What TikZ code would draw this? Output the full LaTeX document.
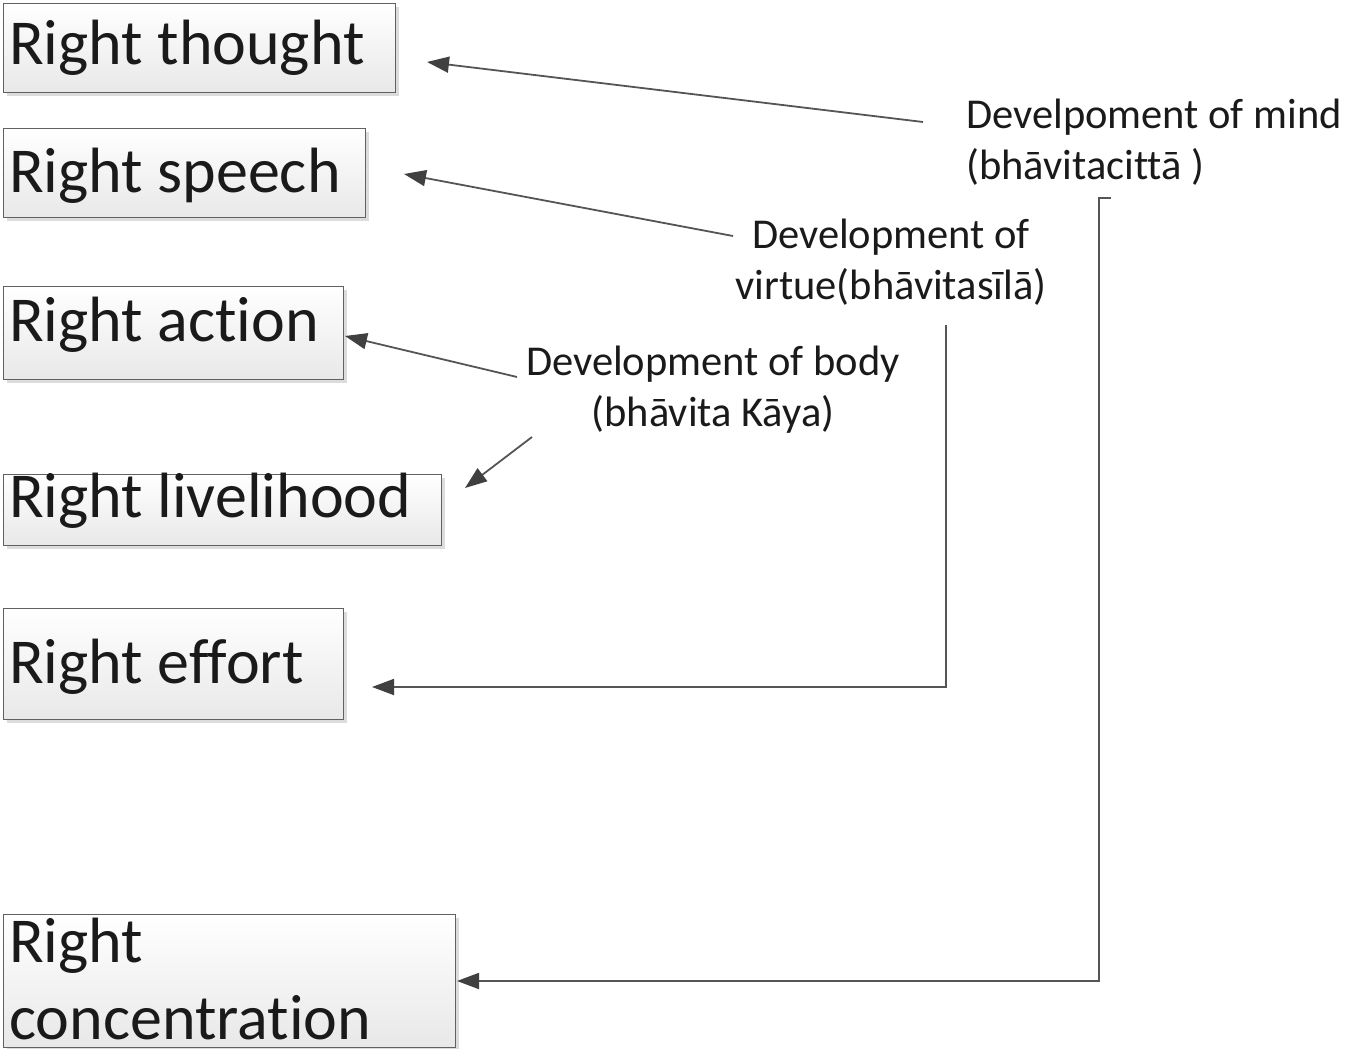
\documentclass[tikz,border=0pt]{standalone}
\usepackage{fontspec}
\setmainfont{Carlito}[Ligatures={NoCommon,NoContextual},RawFeature={-liga;-clig;-dlig}]
\usetikzlibrary{arrows.meta,shadows}
\definecolor{linec}{HTML}{555555}
\definecolor{headc}{HTML}{404040}
\definecolor{txt}{HTML}{1A1A1A}
\begin{document}
\begin{tikzpicture}[x=1pt,y=-1pt,
  box/.style={draw=black!62, line width=1.2pt, top color=white, bottom color=black!9,
    rectangle, inner sep=0pt, anchor=north west,
    drop shadow={shadow xshift=3pt, shadow yshift=-3pt, fill=black!30, opacity=0.45}},
  big/.style={inner sep=0pt, anchor=base west, text=txt,
    font=\fontsize{64}{77}\selectfont, align=left},
  lab/.style={inner sep=0pt, anchor=base, text=txt,
    font=\fontsize{42.5}{51}\selectfont},
  conn/.style={draw=linec, line width=1.8pt,
    -{Triangle[length=22pt,width=16pt,color=headc]}}]
\useasboundingbox (0,0) rectangle (1345,1049);

% boxes
\node[box, minimum width=392pt, minimum height=89pt]  (b1) at (3,3)   {};
\node[box, minimum width=362pt, minimum height=89pt]  (b2) at (3,128) {};
\node[box, minimum width=340pt, minimum height=93pt]  (b3) at (3,286) {};
\node[box, minimum width=438pt, minimum height=71pt]  (b4) at (3,474) {};
\node[box, minimum width=340pt, minimum height=111pt] (b5) at (3,608) {};
\node[box, minimum width=452pt, minimum height=133pt] (b6) at (3,914) {};

% box texts
\node[big] (t1) at (9,65)  {Right thought};
\node[big] (t2) at (9,192) {Right speech};
\node[big] (t3) at (9,341) {Right action};
\node[big] (t4) at (9,517) {Right livelihood};
\node[big] (t5) at (9,683) {Right effort};
\node[big] (t6) at (9,1039) {Right\\concentration};

% labels (base = baseline of last line)
\node[lab, align=left, anchor=base west] (mind) at (966,179) {Develpoment of mind\\(bhāvitacittā )};
\node[lab, align=center] (virtue) at (891,299) {Development of\\virtue(bhāvitasīlā)};
\node[lab, align=center] (body) at (713,426) {Development of body\\(bhāvita Kāya)};

% connector ends
\coordinate (m1) at (923,122);  \coordinate (e1) at (427,62);
\coordinate (v1) at (733,236);  \coordinate (e2) at (404,174);
\coordinate (p1) at (517,377);  \coordinate (e3) at (345,336);
\coordinate (p2) at (532,437);  \coordinate (e4) at (465,488);
\coordinate (v2) at (946,325);  \coordinate (e5) at (372,687);
\coordinate (m2) at (1111,198); \coordinate (m3) at (1099,198);
\coordinate (e6) at (457,981);

\draw[conn] (m1) -- (e1);
\draw[conn] (v1) -- (e2);
\draw[conn] (p1) -- (e3);
\draw[conn] (p2) -- (e4);
\draw[conn] (v2) |- (e5);
\draw[conn] (m2) -- (m3) |- (e6);
\end{tikzpicture}
\end{document}
